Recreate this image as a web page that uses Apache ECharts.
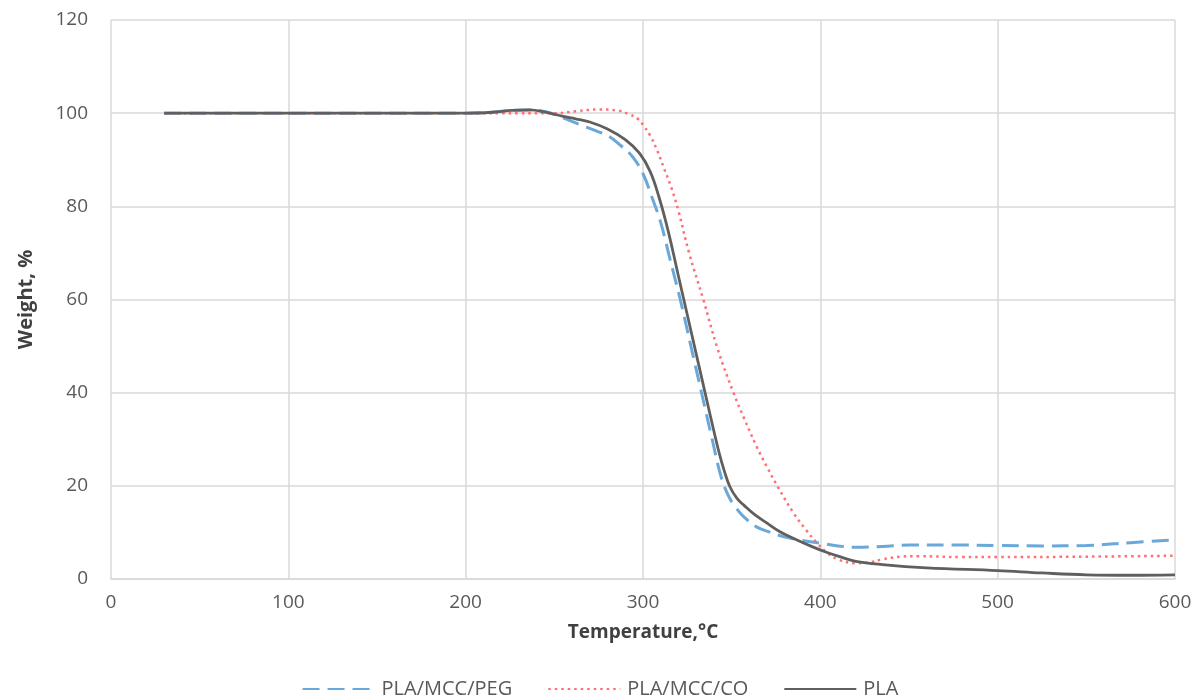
<!DOCTYPE html>
<html>
<head>
<meta charset="utf-8">
<script src="https://cdn.jsdelivr.net/npm/echarts@6/dist/echarts.min.js"></script>
<style>html,body{margin:0;padding:0;background:#fff}#c{width:1200px;height:700px}</style>
</head>
<body>
<div id="c"></div>
<script>
var seriesNames = ['PLA/MCC/PEG', 'PLA/MCC/CO', 'PLA'];
var xTicks = [0, 100, 200, 300, 400, 500, 600];
var yTicks = [0, 20, 40, 60, 80, 100, 120];

var pegTemp = [30, 100, 200, 215, 226, 236, 245, 253, 264, 275, 281, 287, 294, 300, 305, 310, 315, 321, 327, 333, 339, 344, 348, 352, 357, 364, 372, 379, 388, 400, 410, 420, 435, 450, 475, 500, 525, 550, 575, 600];
var pegWeight = [100, 100, 100, 100.2, 100.6, 100.7, 100.3, 99.3, 97.6, 96.0, 95.0, 93.2, 90.7, 87, 82, 76.5, 69, 60, 50, 40, 30, 22, 18, 15.5, 13.3, 11.2, 10, 9.1, 8.4, 7.7, 7.1, 6.8, 7.0, 7.3, 7.3, 7.2, 7.1, 7.2, 7.8, 8.4];

var coTemp = [30, 100, 200, 230, 250, 262, 275, 285, 292, 297, 300, 304, 308, 312, 316, 320, 326, 334, 342, 351, 357, 364, 370, 376, 385, 392, 398, 404, 410, 420, 428, 435, 445, 455, 480, 500, 550, 600];
var coWeight = [100, 100, 100, 100, 100, 100.4, 100.8, 100.6, 99.8, 98.8, 97.5, 95.2, 92, 88, 84, 79, 70, 60, 49.5, 40, 34.5, 28.5, 24, 19.8, 14.1, 10.5, 7.8, 5.6, 4.2, 3.4, 3.6, 4.2, 4.8, 4.9, 4.7, 4.7, 4.8, 5.0];

var plaTemp = [30, 100, 200, 215, 226, 236, 245, 255, 262, 270, 280, 290, 298, 304, 309, 314, 320, 326, 332, 338, 343, 346, 349, 353, 357, 363, 370, 377, 385, 395, 403, 411, 420, 435, 460, 500, 525, 550, 575, 600];
var plaWeight = [100, 100, 100, 100.2, 100.6, 100.7, 100.2, 99.3, 98.8, 98.1, 96.6, 94.3, 91.4, 87.5, 82, 75, 65, 55, 45, 35, 27, 23, 19.8, 17.3, 15.8, 13.8, 12, 10.2, 8.7, 7.0, 5.8, 4.8, 3.8, 3.1, 2.4, 1.8, 1.3, 0.9, 0.8, 0.9];

function pairs(xs, ys) { return xs.map(function (x, i) { return [x, ys[i]]; }); }

var font = 'Open Sans';
var chart = echarts.init(document.getElementById('c'), null, {renderer: 'canvas'});
chart.setOption({
  animation: false,
  backgroundColor: '#ffffff',
  textStyle: {fontFamily: font},
  grid: {left: 111, right: 25, top: 20, bottom: 121, containLabel: false},
  xAxis: {
    type: 'value', min: xTicks[0], max: xTicks[xTicks.length - 1], interval: 100,
    name: 'Temperature,°C', nameLocation: 'middle', nameGap: 44,
    nameTextStyle: {fontFamily: font, fontWeight: 'bold', fontSize: 19, color: '#404040'},
    axisLine: {show: true, lineStyle: {color: '#d9d9d9', width: 1.5}},
    axisTick: {show: false},
    axisLabel: {fontFamily: font, fontSize: 19, color: '#595959', margin: 14},
    splitLine: {show: true, lineStyle: {color: '#d9d9d9', width: 1.5}}
  },
  yAxis: {
    type: 'value', min: yTicks[0], max: yTicks[yTicks.length - 1], interval: 20,
    name: 'Weight, %', nameLocation: 'middle', nameGap: 75, nameRotate: 90,
    nameTextStyle: {fontFamily: font, fontWeight: 'bold', fontSize: 20, color: '#404040'},
    axisLine: {show: false},
    axisTick: {show: false},
    axisLabel: {fontFamily: font, fontSize: 19, color: '#595959', margin: 23},
    splitLine: {show: true, lineStyle: {color: '#d9d9d9', width: 1.5}}
  },
  legend: {
    bottom: -4, left: 'center', itemWidth: 72, itemHeight: 14, itemGap: 35,
    itemStyle: {opacity: 0},
    textStyle: {fontFamily: font, fontSize: 20, color: '#595959', padding: [0, 0, 0, 2]},
    data: seriesNames
  },
  series: [
    {
      name: seriesNames[0], type: 'line', smooth: 0.4, symbol: 'none', z: 2,
      data: pairs(pegTemp, pegWeight),
      lineStyle: {color: '#6aa8da', width: 3, type: [17, 8]},
      itemStyle: {color: '#6aa8da'}
    },
    {
      name: seriesNames[1], type: 'line', smooth: 0.4, symbol: 'none', z: 3,
      data: pairs(coTemp, coWeight),
      lineStyle: {color: '#ff6f73', width: 2.5, type: [2.5, 4]},
      itemStyle: {color: '#ff6f73'}
    },
    {
      name: seriesNames[2], type: 'line', smooth: 0.4, symbol: 'none', z: 4,
      data: pairs(plaTemp, plaWeight),
      lineStyle: {color: '#5f5f5f', width: 2.8, type: 'solid'},
      itemStyle: {color: '#5f5f5f'}
    }
  ]
});
</script>
</body>
</html>
